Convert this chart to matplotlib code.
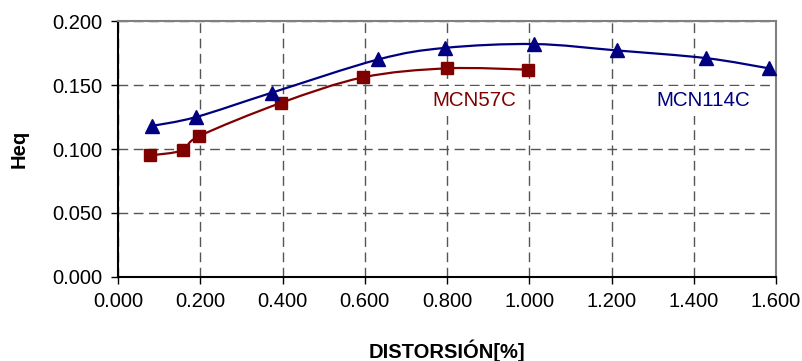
import matplotlib
matplotlib.use('Agg')
import matplotlib.pyplot as plt
import numpy as np
from matplotlib.path import Path
from matplotlib.patches import PathPatch

plt.rcParams['font.family'] = ['Liberation Sans', 'DejaVu Sans']

# data
x_57 = [0.078, 0.158, 0.197, 0.396, 0.596, 0.800, 0.997]
heq_57 = [0.095, 0.099, 0.110, 0.136, 0.156, 0.163, 0.162]

x_114 = [0.082, 0.190, 0.374, 0.633, 0.795, 1.012, 1.213, 1.430, 1.583]
heq_114 = [0.118, 0.125, 0.144, 0.170, 0.179, 0.182, 0.177, 0.171, 0.163]

xticks = [0.0, 0.2, 0.4, 0.6, 0.8, 1.0, 1.2, 1.4, 1.6]
yticks = [0.0, 0.05, 0.10, 0.15, 0.20]


def smooth_path(xs, ys):
    # excel style smoothed line: bezier segments with catmull-rom control points
    p = np.column_stack([xs, ys])
    n = len(p)
    verts = [p[0]]
    codes = [Path.MOVETO]
    for i in range(n - 1):
        p0 = p[i - 1] if i > 0 else p[i]
        p3 = p[i + 2] if i + 2 < n else p[i + 1]
        c1 = p[i] + (p[i + 1] - p0) / 6
        c2 = p[i + 1] - (p3 - p[i]) / 6
        verts += [c1, c2, p[i + 1]]
        codes += [Path.CURVE4] * 3
    return Path(verts, codes)


fig = plt.figure(figsize=(8.03, 3.61), dpi=100)
ax = fig.add_axes([0.147, 0.2327, 0.8194, 0.7091])

red = '#800000'
blue = '#000080'

ax.add_patch(PathPatch(smooth_path(x_57, heq_57), fill=False, edgecolor=red, lw=1.6, zorder=3))
ax.add_patch(PathPatch(smooth_path(x_114, heq_114), fill=False, edgecolor=blue, lw=1.6, zorder=3))
ax.plot(x_57, heq_57, ls='none', marker='s', ms=8.5, color=red, zorder=4)
ax.plot(x_114, heq_114, ls='none', marker='^', ms=9.5, color=blue, zorder=4)

ax.text(0.867, 0.1377, 'MCN57C', color=red, fontsize=14.8, ha='center', va='center',
        bbox=dict(facecolor='white', edgecolor='none', pad=4), zorder=2.5)
ax.text(1.422, 0.1377, 'MCN114C', color=blue, fontsize=14.8, ha='center', va='center',
        bbox=dict(facecolor='white', edgecolor='none', pad=4), zorder=2.5)

ax.set_xlim(0, 1.6)
ax.set_ylim(0, 0.2)
ax.set_xticks(xticks)
ax.set_yticks(yticks)
ax.set_xticklabels(['%.3f' % v for v in xticks])
ax.set_yticklabels(['%.3f' % v for v in yticks])
ax.tick_params(labelsize=14.5, length=5, width=1, color='black', pad=6)

ax.grid(True, color='#555555', ls=(0, (7, 4)), lw=1)
ax.set_axisbelow(True)

for s in ['top', 'right']:
    ax.spines[s].set_color('#808080')
    ax.spines[s].set_linewidth(1.5)
for s in ['left', 'bottom']:
    ax.spines[s].set_color('black')
    ax.spines[s].set_linewidth(1.5)

ax.set_xlabel('DISTORSIÓN[%]', fontsize=14.5, fontweight='bold', labelpad=20)
ax.set_ylabel('Heq', fontsize=14.5, fontweight='bold', labelpad=17)

fig.savefig('out.png', dpi=100)
